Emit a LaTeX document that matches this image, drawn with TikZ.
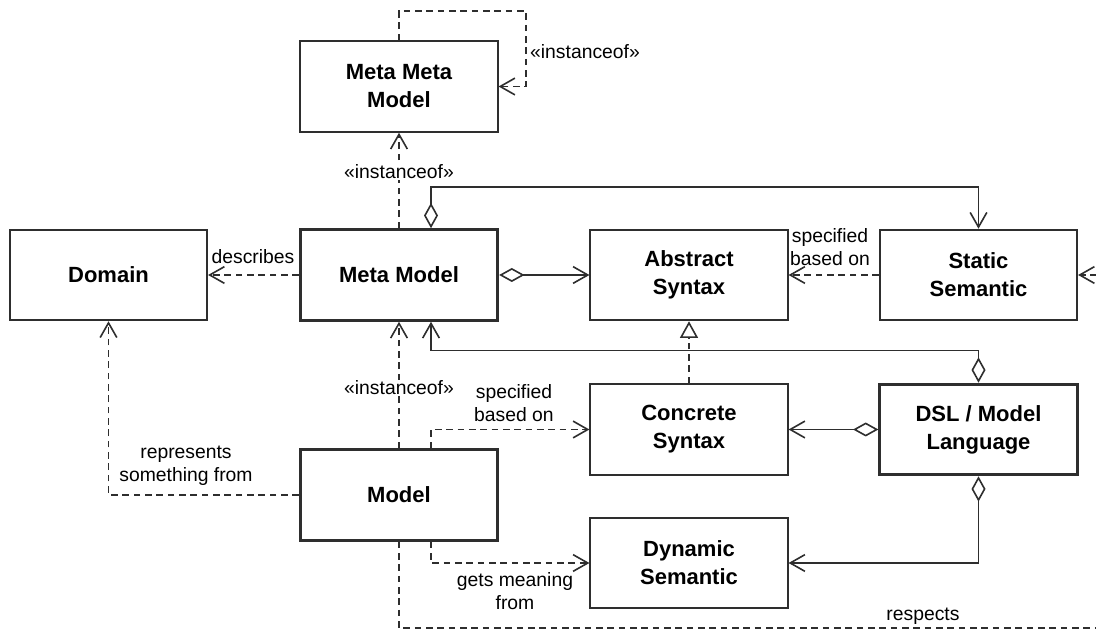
\documentclass[tikz,border=0pt]{standalone}
\usepackage{fontspec}
\setmainfont{Liberation Sans}
\usetikzlibrary{arrows.meta}
\definecolor{ln}{HTML}{2E2E2E}
\tikzset{
  x=0.75pt, y=-0.75pt,
  box/.style={draw=ln, line width=1.4pt, fill=white, minimum width=148pt, minimum height=68pt,
    align=center, inner sep=2pt, font=\fontsize{16.5}{21}\selectfont\bfseries},
  thickbox/.style={box, line width=2.2pt},
  lbl/.style={font=\fontsize{14.5}{17}\selectfont, align=center, inner sep=1pt, text=black},
  lblw/.style={lbl, fill=white},
  openv/.tip={Straight Barb[length=11pt, width=12.5pt, line width=1.2pt]},
  dia/.tip={Diamond[open, fill=white, length=19pt, width=10.5pt, line width=1.2pt]},
  tri/.tip={Triangle[open, fill=white, length=12.5pt, width=13.5pt, line width=1.2pt]},
  dep/.style={draw=ln, line width=1.2pt, dash pattern=on 5pt off 3.5pt, -{openv}},
  agg/.style={draw=ln, line width=1.2pt, {dia}-{openv}},
  real/.style={draw=ln, line width=1.2pt, dash pattern=on 5pt off 3.5pt, -{tri}},
}
\begin{document}
\begin{tikzpicture}
\useasboundingbox (0,0) rectangle (1096,630);
\clip (0,0) rectangle (1096,630);
\fill[white] (0,0) rectangle (1096,630);

% nodes
\node[box]      (mmm)   at (399,86.5)  {Meta Meta\\Model};
\node[thickbox] (mm)    at (399,275)   {Meta Model};
\node[box]      (dom)   at (108.5,275) {Domain};
\node[box]      (as)    at (689,275)   {Abstract\\Syntax};
\node[box]      (ss)    at (978.5,275) {Static\\Semantic};
\node[box]      (cs)    at (689,429.5) {Concrete\\Syntax};
\node[thickbox] (dsl)   at (978.5,429.5) {DSL / Model\\Language};
\node[box]      (ds)    at (689,563)   {Dynamic\\Semantic};
\node[thickbox] (model) at (399,495)   {Model};

\coordinate (loopA) at (399,11);
\coordinate (loopB) at (526,11);
\coordinate (respR) at (1112,628);

% connectors
\draw[dep] (mmm.north) -- (loopA) -- (loopB) |- (mmm.east);
\draw[dep] (mm.north) -- (mmm.south);
\draw[agg] ([xshift=24pt]mm.north) -- ++(0,-41) -| (ss.north);
\draw[agg] (mm.east) -- (as.west);
\draw[dep] (mm.west) -- (dom.east);
\draw[dep] (ss.west) -- (as.east);
\draw[real] (cs.north) -- (as.south);
\draw[agg] (dsl.north) -- ++(0,-32) -| ([xshift=24pt]mm.south);
\draw[agg] (dsl.west) -- (cs.east);
\draw[agg] (dsl.south) |- (ds.east);
\draw[dep] (model.north) -- (mm.south);
\draw[dep] ([xshift=24pt]model.north) |- (cs.west);
\draw[dep] (model.west) -| (dom.south);
\draw[dep] ([xshift=24pt]model.south) |- (ds.west);
\draw[dep] (model.south) |- (respR) |- (ss.east);

% labels
\node[lbl]  (l1) at (585,52)  {«instanceof»};
\node[lblw] (l2) at (399,172) {«instanceof»};
\node[lbl]  (l3) at (253,257) {describes};
\node[lbl]  (l4) at (830,247) {specified\\based on};
\node[lblw] (l5) at (399,388) {«instanceof»};
\node[lbl]  (l6) at (514,403) {specified\\based on};
\node[lbl]  (l7) at (186,466) {represents\\something from};
\node[lbl]  (l8) at (515,591) {gets meaning\\from};
\node[lbl]  (l9) at (923,616) {respects};
\end{tikzpicture}
\end{document}
